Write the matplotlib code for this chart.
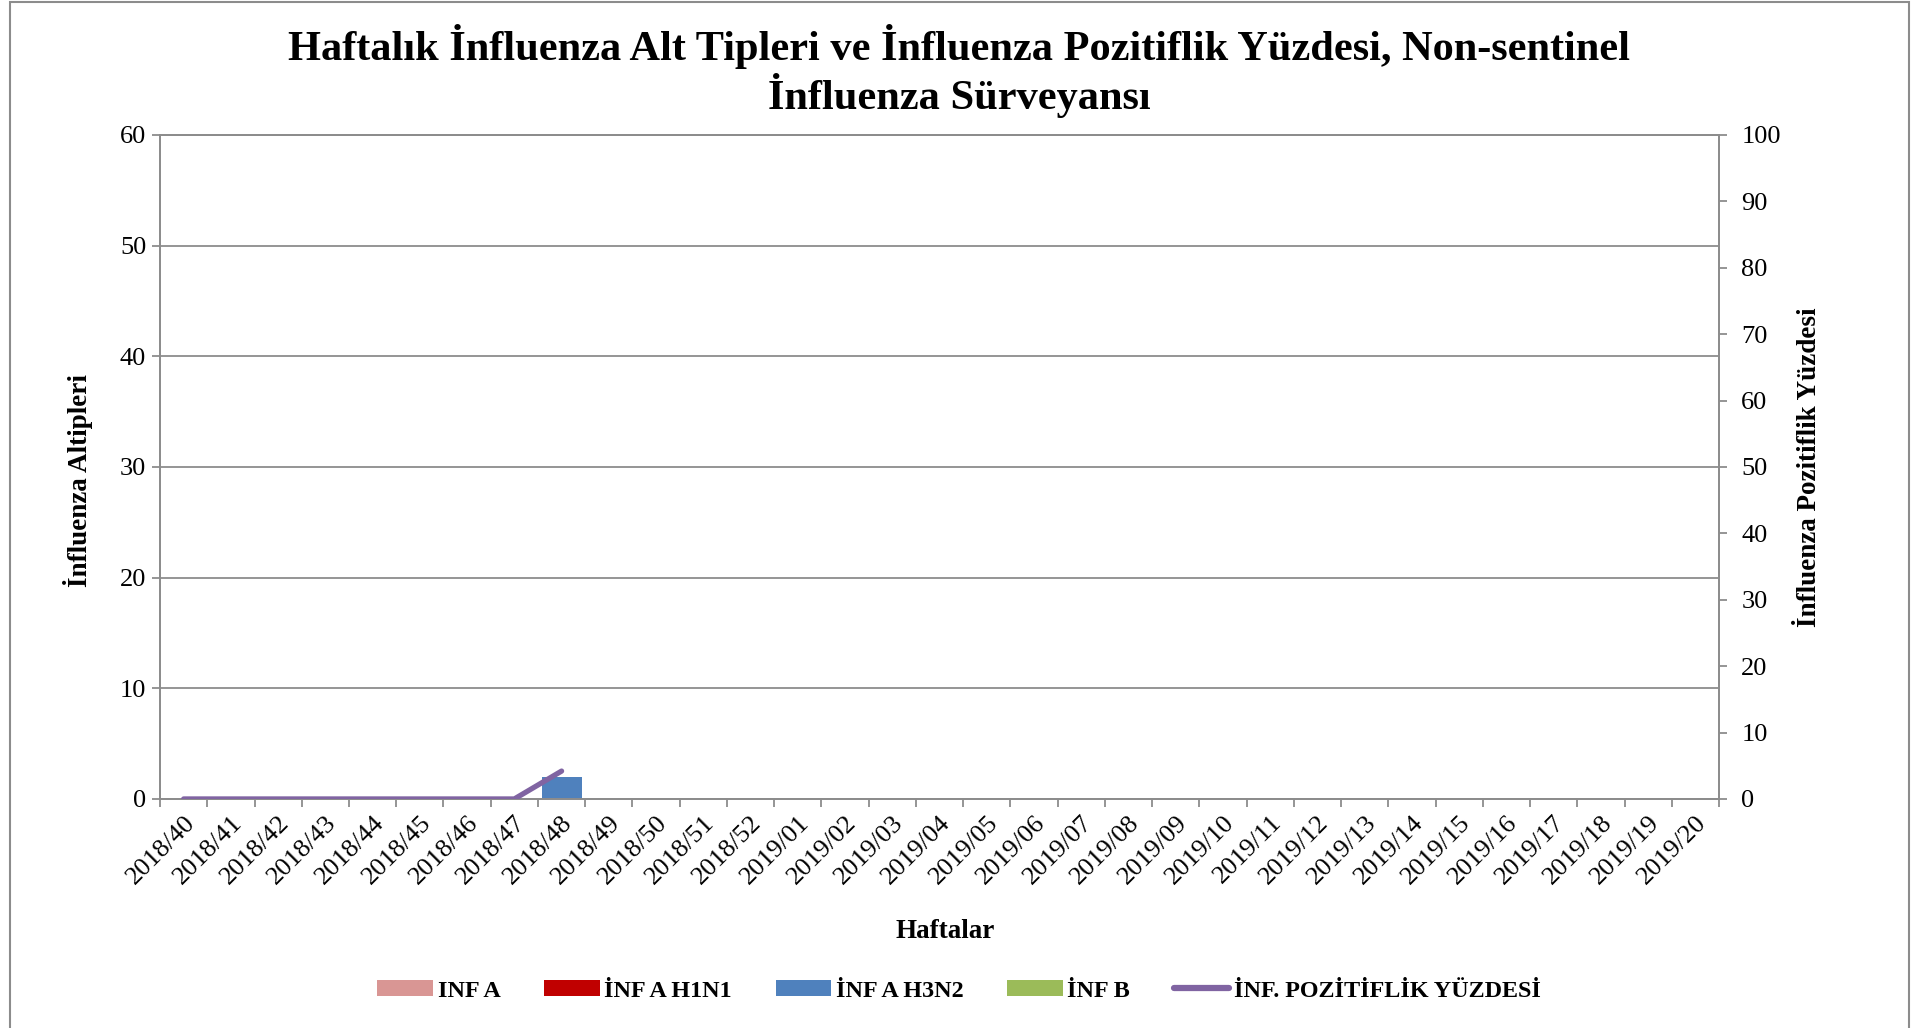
import numpy as np
import matplotlib
matplotlib.use("Agg")
import matplotlib.pyplot as plt
from matplotlib.patches import Patch, Rectangle
from matplotlib.lines import Line2D

plt.rcParams['font.family'] = ['Liberation Serif', 'DejaVu Serif']

weeks = ['2018/40', '2018/41', '2018/42', '2018/43', '2018/44', '2018/45', '2018/46',
         '2018/47', '2018/48', '2018/49', '2018/50', '2018/51', '2018/52',
         '2019/01', '2019/02', '2019/03', '2019/04', '2019/05', '2019/06', '2019/07',
         '2019/08', '2019/09', '2019/10', '2019/11', '2019/12', '2019/13', '2019/14',
         '2019/15', '2019/16', '2019/17', '2019/18', '2019/19', '2019/20']
n = len(weeks)
inf_a = [0] * n
inf_a_h1n1 = [0] * n
inf_a_h3n2 = [0, 0, 0, 0, 0, 0, 0, 0, 2] + [0] * (n - 9)
inf_b = [0] * n
positivity = [0, 0, 0, 0, 0, 0, 0, 0, 4.2] + [np.nan] * (n - 9)

series = [('INF A', inf_a, '#D99694'),
          ('İNF A H1N1', inf_a_h1n1, '#C00000'),
          ('İNF A H3N2', inf_a_h3n2, '#4F81BD'),
          ('İNF B', inf_b, '#9BBB59')]
line_color = '#8064A2'
gray = '#8C8C8C'

fig = plt.figure(figsize=(19.28, 10.28), dpi=100)
ax = fig.add_axes([0.083, 0.2228, 0.8086, 0.6459])
ax2 = ax.twinx()

x = np.arange(n)
bottom = np.zeros(n)
for name, vals, col in series:
    ax.bar(x, vals, width=0.85, bottom=bottom, color=col, zorder=2)
    bottom += np.array(vals)

ax2.plot(x, positivity, color=line_color, lw=3.8, solid_capstyle='round', zorder=3)

ax.set_xlim(-0.5, n - 0.5)
ax.set_ylim(0, 60)
ax.set_yticks(range(0, 61, 10))
ax2.set_ylim(0, 100)
ax2.set_yticks(range(0, 101, 10))

ax.yaxis.grid(True, color=gray, lw=1.3, zorder=0)
ax.set_axisbelow(True)

ax.set_xticks(x)
ax.set_xticklabels(weeks, rotation=45, ha='right', rotation_mode='anchor', fontsize=19)
ax.set_xticks(np.arange(-0.5, n, 1), minor=True)
ax.tick_params(axis='x', which='major', length=0, pad=9)
ax.tick_params(axis='x', which='minor', length=6, color=gray, width=1.3)
ax.tick_params(axis='y', labelsize=19, length=6, color=gray, width=1.3, pad=4)
ax2.tick_params(axis='y', labelsize=19, length=6, color=gray, width=1.3, pad=10)

for a in (ax, ax2):
    for s in a.spines.values():
        s.set_color(gray)
        s.set_linewidth(1.3)

ax.set_ylabel('İnfluenza Altipleri', fontsize=19.5, fontweight='bold')
ax.yaxis.set_label_coords(-0.043, 0.48)
ax2.set_ylabel('İnfluenza Pozitiflik Yüzdesi', fontsize=19.5, fontweight='bold', labelpad=12)
fig.text(0.4905, 0.094, 'Haftalar', ha='center', va='center', fontsize=19.5, fontweight='bold')

fig.text(0.4975, 0.931, 'Haftalık İnfluenza Alt Tipleri ve İnfluenza Pozitiflik Yüzdesi, Non-sentinel\nİnfluenza Sürveyansı',
         ha='center', va='center', fontsize=30.5, fontweight='bold', linespacing=1.1)

handles = [Patch(facecolor=c, edgecolor='none') for _, _, c in series]
handles.append(Line2D([0], [0], color=line_color, lw=4.5, solid_capstyle='round'))
labels = [s[0] for s in series] + ['İNF. POZİTİFLİK YÜZDESİ']
fig.legend(handles, labels, loc='center', bbox_to_anchor=(0.4975, 0.036), ncol=5,
           frameon=False, handlelength=2.3, handleheight=0.6,
           handletextpad=0.2, columnspacing=1.8, prop={'weight': 'bold', 'size': 17.4})

fig.patches.append(Rectangle((0.005, -0.01), 0.985, 1.008, transform=fig.transFigure,
                             fill=False, edgecolor=gray, lw=1.5))

fig.savefig('out.png', dpi=100)
